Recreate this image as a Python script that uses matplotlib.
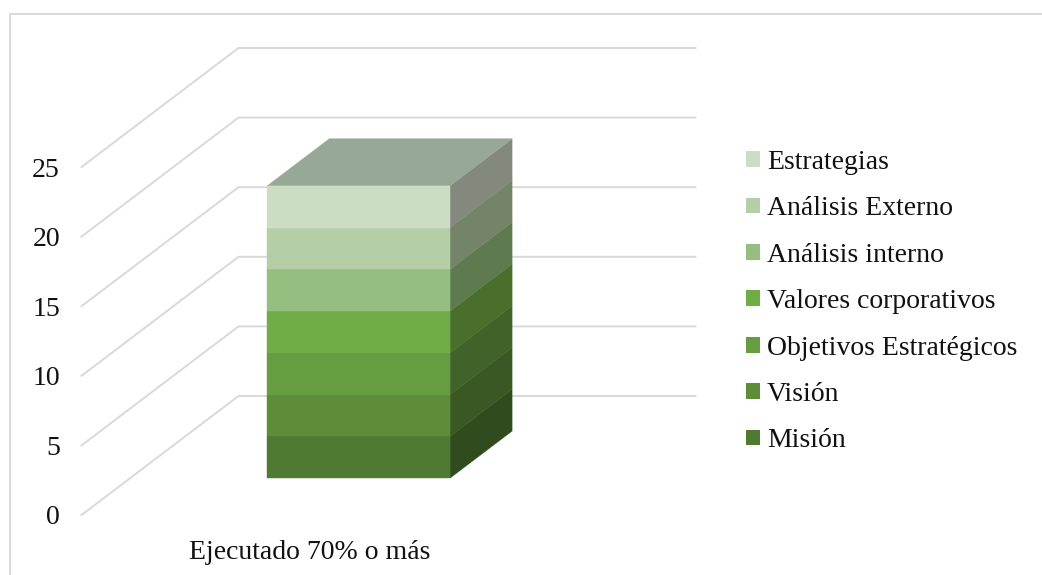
import numpy as np
import matplotlib
matplotlib.use("Agg")
import matplotlib.pyplot as plt
from matplotlib.lines import Line2D
from matplotlib.patches import Patch, Polygon

categories = ["Ejecutado 70% o más"]
series_names = ["Misión", "Visión", "Objetivos Estratégicos", "Valores corporativos",
                "Análisis interno", "Análisis Externo", "Estrategias"]
series_values = [3, 3, 3, 3, 3, 3, 3]
y_ticks = [0, 5, 10, 15, 20, 25]

front_colors = ["#4F7A32", "#5D8D39", "#669D41", "#70AD47", "#95BF80", "#B4CFA8", "#CCDDC6"]
side_colors = ["#304C1E", "#395823", "#3F6328", "#4A6E2C", "#5E7B50", "#748469", "#83897C"]
top_color = "#98A896"
grid_color = "#D9D9D9"

# oblique projection of the floor depth, in data units
DEPTH_X = 157 / 457
DEPTH_Y = 119 / (348 / 25)
BAR_WIDTH = 0.40
BAR_D0, BAR_D1 = 0.31, 0.705
FONT = 20


def project(x, y, d):
    return (x + d * DEPTH_X, y + d * DEPTH_Y)


plt.rcParams["font.family"] = ["Liberation Serif", "DejaVu Serif"]
fig = plt.figure(figsize=(10.42, 5.75), dpi=100)
ax = fig.add_axes([81.5 / 1042, 60 / 575, 457 / 1042, 348 / 575])
ax.set_xlim(0, 1)
ax.set_ylim(0, 25)
for s in ax.spines.values():
    s.set_visible(False)
ax.patch.set_visible(False)

ax.set_yticks(y_ticks)
ax.set_xticks([0.5])
ax.set_xticklabels(categories)
ax.tick_params(axis="y", length=0, pad=15.5, labelsize=FONT, labelcolor="#111111")
ax.tick_params(axis="x", length=0, pad=18, labelsize=FONT, labelcolor="#111111")

# side wall and back wall grid lines
for t in y_ticks:
    a = project(0, t, 0)
    b = project(0, t, 1)
    c = project(1, t, 1)
    ax.plot([a[0], b[0], c[0]], [a[1], b[1], c[1]], color=grid_color, lw=1.4,
            clip_on=False, zorder=1, solid_joinstyle="miter")

# stacked block
x0 = 0.5 - BAR_WIDTH / 2
x1 = 0.5 + BAR_WIDTH / 2
bottoms = np.concatenate([[0], np.cumsum(series_values)[:-1]])
for val, bot, fc, sc in zip(series_values, bottoms, front_colors, side_colors):
    top = bot + val
    front = [project(x0, bot, BAR_D0), project(x1, bot, BAR_D0),
             project(x1, top, BAR_D0), project(x0, top, BAR_D0)]
    side = [project(x1, bot, BAR_D0), project(x1, bot, BAR_D1),
            project(x1, top, BAR_D1), project(x1, top, BAR_D0)]
    ax.add_patch(Polygon(side, facecolor=sc, edgecolor=sc, lw=0.3, clip_on=False, zorder=2))
    ax.add_patch(Polygon(front, facecolor=fc, edgecolor=fc, lw=0.3, clip_on=False, zorder=3))

total = sum(series_values)
roof = [project(x0, total, BAR_D0), project(x1, total, BAR_D0),
        project(x1, total, BAR_D1), project(x0, total, BAR_D1)]
ax.add_patch(Polygon(roof, facecolor=top_color, edgecolor=top_color, lw=0.3, clip_on=False, zorder=2))

handles = [Patch(facecolor=c, edgecolor="none") for c in front_colors[::-1]]
fig.legend(handles, series_names[::-1], loc="upper left", bbox_to_anchor=(746 / 1042, 1 - 150 / 575),
           frameon=False, fontsize=FONT, labelcolor="#111111", handlelength=0.5, handleheight=0.5,
           handletextpad=0.26, labelspacing=0.77, borderpad=0, borderaxespad=0)

# chart area border (only top and left are inside the crop)
fig.add_artist(Line2D([10 / 1042, 10 / 1042, 1], [0, 1 - 14 / 575, 1 - 14 / 575],
                      color=grid_color, lw=1.4, solid_joinstyle="miter"))

fig.savefig("out.png", dpi=100)
plt.close(fig)
